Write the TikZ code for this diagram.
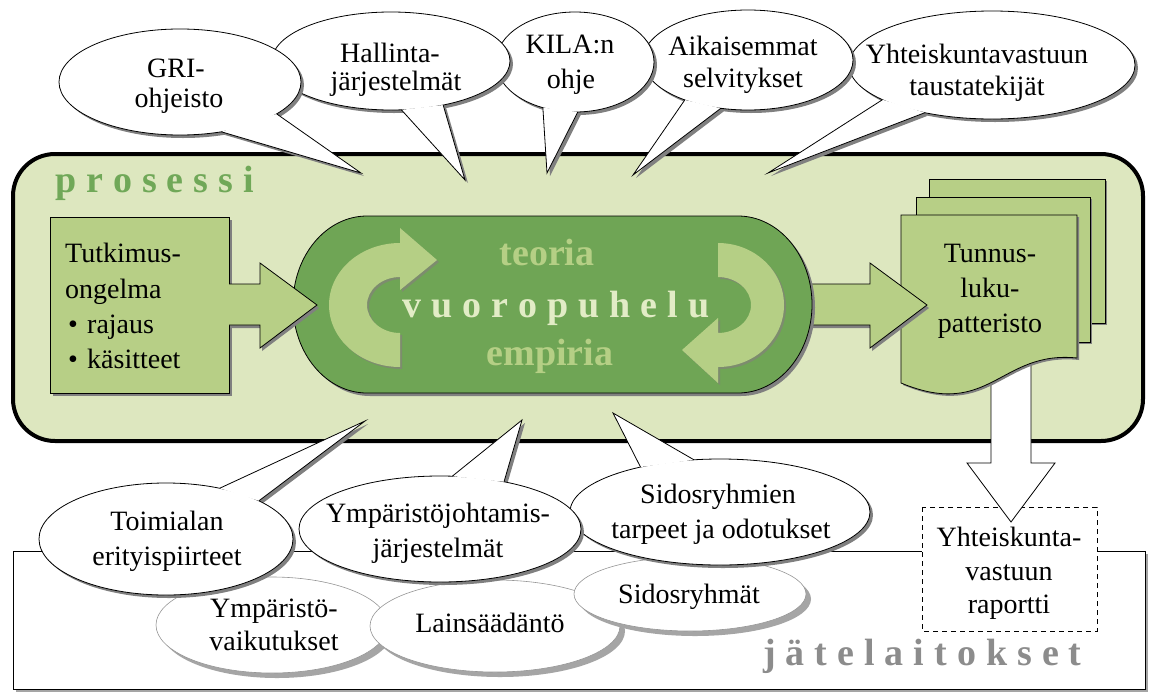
\documentclass[tikz,border=0pt]{standalone}
\usepackage{fontspec}
\setmainfont{Liberation Serif}
\usetikzlibrary{calc}
\definecolor{procbg}{RGB}{221,231,191}
\definecolor{boxgreen}{RGB}{183,207,134}
\definecolor{pillgreen}{RGB}{111,165,85}
\definecolor{lightarrow}{RGB}{181,207,133}
\definecolor{paletext}{RGB}{226,236,198}
\definecolor{prostext}{RGB}{112,168,88}
\definecolor{jatetext}{RGB}{140,140,140}
\definecolor{shadowgray}{RGB}{128,128,128}
\definecolor{lightshadow}{RGB}{165,165,165}
\definecolor{ellgray}{RGB}{150,150,150}
\definecolor{arrowshadow}{RGB}{125,140,110}
\newcommand\trk{\kern10pt}
\tikzset{
  txt/.style={anchor=base, inner sep=0pt, font=\fontsize{28}{33}\selectfont},
  txtw/.style={anchor=base west, inner sep=0pt, font=\fontsize{28}{33}\selectfont},
  bigtxt/.style={anchor=base west, inner sep=0pt, font=\fontsize{38}{44}\selectfont\bfseries},
  pilltxt/.style={anchor=base, inner sep=0pt, font=\fontsize{38}{44}\selectfont\bfseries},
  thinline/.style={draw=black, line width=0.8pt},
  bubble/.style={fill=white, draw=black, line width=0.8pt},
  grayellipse/.style={fill=white, draw=ellgray, line width=0.6pt},
  greenshape/.style={fill=boxgreen, draw=black, line width=0.8pt},
}
% #1 name, #2 centre, #3 rx, #4 ry, #5 angle a, #6 tip, #7 angle b
\newcommand\callout[7]{%
  \coordinate (#1) at (#2);
  \coordinate (#1a) at ($(#1)+(#5:#3 and #4)$);
  \coordinate (#1b) at ($(#1)+(#7:#3 and #4)$);
  \coordinate (#1t) at (#6);
  \fill[shadowgray] ([shift={(3,3)}]#1) ellipse [x radius=#3, y radius=#4];
  \fill[shadowgray] ([shift={(3,3)}]#1a) -- ([shift={(3,3)}]#1t) -- ([shift={(3,3)}]#1b) -- cycle;
  \filldraw[bubble] (#1) ellipse [x radius=#3, y radius=#4];
  \fill[white] (#1a) -- (#1t) -- (#1b) -- cycle;
  \draw[thinline] (#1a) -- (#1t) -- (#1b);
}
% #1 name, #2 centre, #3 rx, #4 ry
\newcommand\grayell[4]{%
  \coordinate (#1) at (#2);
  \fill[lightshadow] ([shift={(5,5)}]#1) ellipse [x radius=#3, y radius=#4];
  \filldraw[grayellipse] (#1) ellipse [x radius=#3, y radius=#4];
}
\begin{document}
\begin{tikzpicture}[x=1pt,y=-1pt]
\useasboundingbox (0,0) rectangle (1151,691);
\fill[white] (0,0) rectangle (1151,691);

% jätelaitokset frame
\fill[lightshadow] (16,554) rectangle (1148,692);
\filldraw[fill=white, draw=black, line width=0.8pt] (13,551) rectangle (1145,689);
\node[bigtxt, text=jatetext] (jate) at (763,665) {j\trk ä\trk t\trk e\trk l\trk a\trk i\trk t\trk o\trk k\trk s\trk e\trk t};

% process frame
\draw[line width=4pt, fill=procbg, rounded corners=42pt] (13,154) rectangle (1143,441);
\node[bigtxt, text=prostext] (prosessi) at (55,192) {p\trk r\trk o\trk s\trk e\trk s\trk s\trk i};

% report box
\draw[fill=white, draw=black, line width=0.8pt, dash pattern=on 5pt off 4pt] (922,507) rectangle (1097,631);
\node[txt] (rep1) at (1009,546) {Yhteiskunta-};
\node[txt] (rep2) at (1009,580) {vastuun};
\node[txt] (rep3) at (1009,613) {raportti};

% white arrow down
\filldraw[fill=white, thinline] (991,360) -- (991,463) -- (967,463) -- (1011,522) -- (1055,463) -- (1031,463) -- (1031,360) -- cycle;

% document stack
\fill[shadowgray] (931,181) rectangle (1107,325);
\filldraw[greenshape] (929,179) rectangle (1105,323);
\fill[shadowgray] (918,199) rectangle (1092,344);
\filldraw[greenshape] (916,197) rectangle (1090,342);
\fill[shadowgray, shift={(2,2)}] (901,215) -- (1077,215) -- (1077,358) .. controls (1000,350) and (990,420) .. (901,383) -- cycle;
\filldraw[greenshape] (901,215) -- (1077,215) -- (1077,358) .. controls (1000,350) and (990,420) .. (901,383) -- cycle;
\node[txt] (tun1) at (990,262) {Tunnus-};
\node[txt] (tun2) at (990,297) {luku-};
\node[txt] (tun3) at (990,332) {patteristo};

% arrow pill -> documents
\fill[shadowgray, shift={(2,3)}] (805,284) -- (870,284) -- (870,263) -- (927,305) -- (870,348) -- (870,325) -- (805,325) -- cycle;
\filldraw[greenshape] (805,284) -- (870,284) -- (870,263) -- (927,305) -- (870,348) -- (870,325) -- (805,325) -- cycle;

% pill
\begin{scope}[shift={(3,3)}]
\fill[shadowgray] (367,216) arc[start angle=270, end angle=90, x radius=74, y radius=88.5] -- (738,393) arc[start angle=90, end angle=-90, x radius=74, y radius=88.5] -- cycle;
\end{scope}
\filldraw[fill=pillgreen, thinline] (367,216) arc[start angle=270, end angle=90, x radius=74, y radius=88.5] -- (738,393) arc[start angle=90, end angle=-90, x radius=74, y radius=88.5] -- cycle;

% curved arrows
\begin{scope}[shift={(2,2)}]
\fill[arrowshadow] (400,367) arc[start angle=90, end angle=270, x radius=71, y radius=62] -- (400,228) -- (437,260) -- (400,290) -- (400,277) arc[start angle=270, end angle=90, x radius=33, y radius=28] -- cycle;
\fill[arrowshadow] (718,243) arc[start angle=270, end angle=450, x radius=66, y radius=62] -- (718,383) -- (682,350) -- (718,318) -- (718,333) arc[start angle=90, end angle=-90, x radius=33, y radius=28] -- cycle;
\end{scope}
\fill[lightarrow] (400,367) arc[start angle=90, end angle=270, x radius=71, y radius=62] -- (400,228) -- (437,260) -- (400,290) -- (400,277) arc[start angle=270, end angle=90, x radius=33, y radius=28] -- cycle;
\fill[lightarrow] (718,243) arc[start angle=270, end angle=450, x radius=66, y radius=62] -- (718,383) -- (682,350) -- (718,318) -- (718,333) arc[start angle=90, end angle=-90, x radius=33, y radius=28] -- cycle;

\node[pilltxt, text=lightarrow] (teoria) at (547,265) {teoria};
\node[pilltxt, text=paletext] (vuoro) at (556,317) {v\trk u\trk o\trk r\trk o\trk p\trk u\trk h\trk e\trk l\trk u};
\node[pilltxt, text=lightarrow] (empiria) at (550,365) {empiria};

% research problem box
\fill[shadowgray] (53,220) rectangle (232,396);
\filldraw[greenshape] (50,217) rectangle (229,393);
\fill[shadowgray, shift={(2,3)}] (229,284) -- (260,284) -- (260,263) -- (317,305) -- (260,348) -- (260,325) -- (229,325) -- cycle;
\fill[boxgreen] (227,284) -- (260,284) -- (260,263) -- (317,305) -- (260,348) -- (260,325) -- (227,325) -- cycle;
\draw[thinline] (229,284) -- (260,284) -- (260,263) -- (317,305) -- (260,348) -- (260,325) -- (229,325);
\node[txtw] (tut1) at (65,262) {Tutkimus-};
\node[txtw] (tut2) at (65,298) {ongelma};
\node[txtw] (tut3) at (68,333) {\makebox[19pt][l]{•}rajaus};
\node[txtw] (tut4) at (68,368) {\makebox[19pt][l]{•}käsitteet};

% lower grey ellipses
\grayell{ymp}{272,625}{116}{48}
\node[txt] (ymp1) at (274,617) {Ympäristö-};
\node[txt] (ymp2) at (274,650) {vaikutukset};
\grayell{lain}{495,626}{125}{46}
\node[txt] (lain1) at (490,632) {Lainsäädäntö};
\grayell{sid}{690,594}{116}{37}
\node[txt] (sid1) at (689,603) {Sidosryhmät};

% lower callouts
\callout{sidt}{720,512}{150}{53}{-100}{613,413}{-122}
\node[txt] (sidt1) at (718,503) {Sidosryhmien};
\node[txt] (sidt2) at (721,538) {tarpeet ja odotukset};
\callout{yjs}{440,529}{141}{53}{-85}{522,420}{-63}
\node[txt] (yjs1) at (438,522) {Ympäristöjohtamis-};
\node[txt] (yjs2) at (438,557) {järjestelmät};
\callout{toim}{166,539}{127}{56}{-65}{365,421}{-43}
\node[txt] (toim1) at (167,530) {Toimialan};
\node[txt] (toim2) at (167,565) {erityispiirteet};

% upper callouts
\callout{yht}{992,65}{143}{54}{140}{768,173}{118}
\node[txt] (yht1) at (977,63) {Yhteiskuntavastuun};
\node[txt] (yht2) at (977,95) {taustatekijät};
\callout{aik}{748,60}{105}{50}{127}{633,175}{105}
\node[txt] (aik1) at (743,55) {Aikaisemmat};
\node[txt] (aik2) at (743,87) {selvitykset};
\callout{kila}{575,62}{79}{50}{114}{547,173}{88}
\node[txt] (kila1) at (570,53) {KILA:n};
\node[txt] (kila2) at (571,88) {ohje};
\callout{hal}{391,61}{119}{49}{85}{465,180}{64}
\node[txt] (hal1) at (390,62) {Hallinta-};
\node[txt] (hal2) at (396,90) {järjestelmät};
\callout{gri}{180,82}{121}{53}{70}{361,173}{37}
\node[txt] (gri1) at (176,77) {GRI-};
\node[txt] (gri2) at (179,107) {ohjeisto};
\end{tikzpicture}
\end{document}
